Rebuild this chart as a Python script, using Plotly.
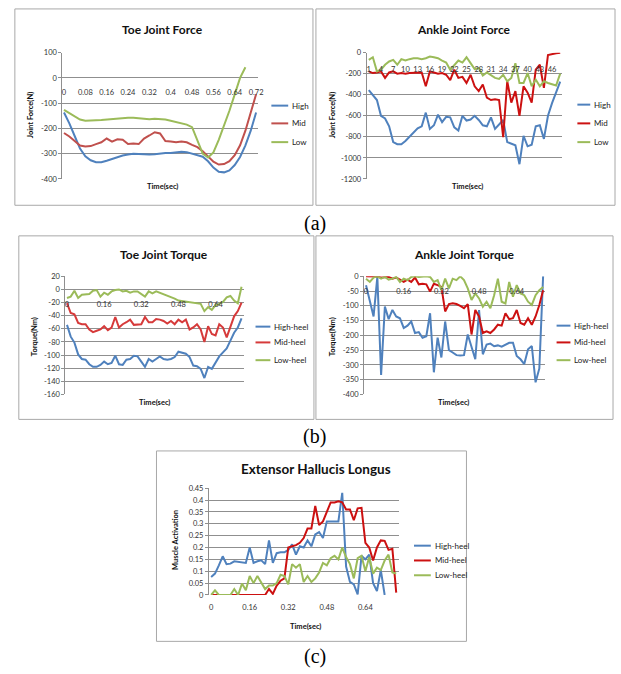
import plotly.graph_objects as go

W, H = 621, 674

# ---------------- data ----------------
# (a) Toe Joint Force, sampled every 0.02 s
TOE_FORCE_T = [round(i * 0.02, 2) for i in range(37)]
TOE_FORCE_HIGH = [-137, -180, -230, -280, -310, -326, -334, -334, -328, -320, -314, -307, -303, -300,
                  -301, -303, -303, -302, -298, -297, -297, -294, -292, -294, -300, -305, -312, -330,
                  -355, -372, -374, -366, -345, -313, -267, -209, -137]
TOE_FORCE_MID = [-218, -232, -250, -268, -272, -270, -262, -255, -240, -252, -243, -245, -262, -260,
                 -262, -240, -228, -215, -220, -250, -252, -255, -252, -255, -265, -274, -290, -309,
                 -332, -343, -341, -330, -306, -267, -209, -137, -65]
TOE_FORCE_LOW = [-127, -140, -155, -165, -170, -170, -168, -167, -165, -162, -161, -160, -158, -158,
                 -160, -163, -164, -162, -162, -165, -170, -175, -183, -185, -195, -250, -300, -315,
                 -295, -245, -190, -130, -65, 0, 42]

# (a) Ankle Joint Force, categories 1..48
ANKLE_FORCE_CAT = list(range(1, 49))
ANKLE_FORCE_HIGH = [-356, -400, -450, -600, -625, -700, -850, -870, -870, -840,
                    -800, -760, -720, -700, -570, -725, -690, -590, -660, -610,
                    -615, -710, -740, -600, -645, -635, -600, -640, -690, -700,
                    -615, -725, -680, -640, -850, -865, -880, -1060, -790, -890,
                    -875, -700, -690, -820, -600, -480, -380, -275]
ANKLE_FORCE_MID = [-178, -194, -188, -178, -240, -188, -178, -200, -194, -200,
                   -194, -194, -188, -188, -320, -178, -188, -200, -194, -210,
                   -262, -162, -240, -230, -288, -210, -320, -365, -303, -428,
                   -450, -443, -450, -803, -272, -475, -365, -600, -320, -380,
                   -475, -162, -115, -335, -22, -12, -6, 0]
ANKLE_FORCE_LOW = [-69, -44, -178, -162, -115, -84, -69, -115, -62, -75,
                   -62, -53, -53, -62, -53, -37, -44, -53, -75, -94,
                   -162, -115, -75, -94, -44, -100, -156, -147, -218, -188,
                   -210, -240, -250, -210, -272, -240, -100, -288, -288, -194,
                   -320, -256, -320, -272, -288, -303, -312, -200]

# (b) torques, sampled every 0.016 s
TORQUE_T = [round(i * 0.016, 3) for i in range(48)]
TOE_TORQUE_HIGH = [-54, -72, -81, -99, -106, -107, -114, -118, -118, -115,
                   -110, -114, -112, -101, -114, -115, -107, -106, -101, -102,
                   -110, -118, -106, -110, -106, -102, -106, -107, -106, -103,
                   -95, -96, -98, -103, -116, -117, -121, -135, -118, -121,
                   -112, -102, -96, -90, -78, -66, -58, -44]
TOE_TORQUE_MID = [-21, -36, -38, -51, -53, -53, -61, -65, -63, -61,
                  -56, -62, -58, -42, -58, -53, -50, -46, -54, -53,
                  -53, -42, -50, -50, -45, -46, -48, -52, -48, -53,
                  -46, -50, -46, -61, -58, -53, -61, -80, -56, -68,
                  -70, -53, -58, -73, -56, -41, -33, -20]
TOE_TORQUE_LOW = [-13, -11, -2, -13, -8, -7, -7, -2, -1, -11,
                  -5, -8, -3, -1, 0, -3, -2, -5, -3, -3,
                  -7, -11, -3, -6, -3, -5, -8, -10, -12, -14,
                  -17, -18, -19, -20, -20, -21, -22, -33, -27, -31,
                  -24, -22, -19, -12, -10, -17, -21, 4]
ANKLE_TORQUE_HIGH = [-30, -86, -136, -2, -334, -102, -145, -114, -136, -142,
                     -175, -167, -153, -192, -189, -208, -203, -125, -325, -208,
                     -275, -153, -250, -258, -267, -268, -267, -197, -242, -281,
                     -114, -264, -231, -228, -237, -234, -238, -231, -225, -225,
                     -270, -281, -297, -247, -236, -359, -312, 0]
ANKLE_TORQUE_MID = [0, 0, -2, -1, -4, -4, -2, -8, -4, -11,
                    -19, -11, -19, -4, -27, -25, -27, -52, -25, -30,
                    -36, -119, -94, -91, -94, -100, -108, -94, -197, -114,
                    -136, -192, -186, -192, -180, -164, -167, -125, -145, -142,
                    -114, -158, -164, -142, -164, -136, -97, -47]
ANKLE_TORQUE_LOW = [-8, -19, -4, 0, -8, -2, -11, -8, -2, -19,
                    -8, -13, -2, 0, -2, 0, 0, -2, -19, -13,
                    -47, -8, -41, -8, -13, 0, -13, -41, -80, -58,
                    -75, -103, -86, -108, -64, -8, -86, -92, -19, -69,
                    -30, -58, -64, -86, -97, -64, -47, -36]

# (c) Extensor Hallucis Longus, sampled every 0.016 s
EHL_T = [round(i * 0.016, 3) for i in range(49)]
EHL_HIGH = [0.076, 0.090, 0.125, 0.163, 0.130, 0.132, 0.142, 0.140, 0.135, 0.135,
            0.200, 0.135, 0.142, 0.146, 0.130, 0.230, 0.135, 0.176, 0.180, 0.180,
            0.190, 0.213, 0.170, 0.205, 0.200, 0.230, 0.205, 0.255, 0.265, 0.240,
            0.310, 0.310, 0.310, 0.310, 0.430, 0.120, 0.055, 0.045, 0.003, 0.165,
            0.150, 0.170, 0.050, 0.017, 0.105, 0.000]
EHL_MID = [0, 0, 0, 0, 0, 0, 0, 0, 0, 0,
           0, 0, 0, 0, 0, 0.025, 0.005, 0.040, 0.060, 0.070,
           0.200, 0.205, 0.210, 0.220, 0.240, 0.280, 0.280, 0.375, 0.295, 0.310,
           0.350, 0.390, 0.390, 0.395, 0.390, 0.360, 0.360, 0.315, 0.365, 0.367,
           0.220, 0.200, 0.145, 0.200, 0.230, 0.228, 0.190, 0.195, 0.010]
EHL_LOW = [0, 0.020, 0, 0, 0, 0, 0.025, 0, 0.048, 0.020,
           0.080, 0.050, 0.080, 0.050, 0.025, 0.040, 0.040, 0.050, 0.085, 0.080,
           0.045, 0.130, 0.115, 0.130, 0.055, 0.080, 0.055, 0.070, 0.095, 0.135,
           0.125, 0.155, 0.165, 0.150, 0.200, 0.160, 0.130, 0.070, 0.155, 0.165,
           0.100, 0.160, 0.090, 0.115, 0.105, 0.145, 0.170, 0.095, 0.090]

NAMES_A = ["High", "Mid", "Low"]
NAMES_B = ["High-heel", "Mid-heel", "Low-heel"]

TITLES = ["Toe Joint Force", "Ankle Joint Force", "Toe Joint Torque", "Ankle Joint Torque",
          "Extensor Hallucis Longus"]
Y_TITLES = ["Joint Force(N)", "Joint Force(N)", "Torque(Nm)", "Torque(Nm)", "Muscle Activation"]
X_TITLE = "Time(sec)"

TOE_FORCE_YTICKS = [100, 0, -100, -200, -300, -400]
ANKLE_FORCE_YTICKS = [0, -200, -400, -600, -800, -1000, -1200]
TOE_TORQUE_YTICKS = [20, 0, -20, -40, -60, -80, -100, -120, -140, -160]
ANKLE_TORQUE_YTICKS = [0, -50, -100, -150, -200, -250, -300, -350, -400]
EHL_YTICKS = [0, 0.05, 0.1, 0.15, 0.2, 0.25, 0.3, 0.35, 0.4, 0.45]
EHL_YTICKTEXT = ["0", "0.05", "0.1", "0.15", "0.2", "0.25", "0.3", "0.35", "0.4", "0.45"]
TOE_FORCE_XTICKS = [0, 0.08, 0.16, 0.24, 0.32, 0.4, 0.48, 0.56, 0.64, 0.72]
ANKLE_FORCE_XTICKS = list(range(1, 48, 3))
TIME_XTICKS = [0, 0.16, 0.32, 0.48, 0.64]

BLUE = "#4F81BD"
RED_SOFT = "#C0504D"
RED = "#CC1111"
GREEN = "#9BBB59"

FONT = "Lato"
GRID = "#8f8f8f"
BOXLINE = "#a8a8a8"


def fx(x):
    return x / W


def fy(y):
    return 1 - y / H


def fmt(v):
    return "%g" % v


panels = [
    dict(box=(14, 5, 315, 204), plot=(62, 49.3, 260, 177.3),
         xr=[-0.006, 0.729], yr=[-400, 100], xt=TOE_FORCE_XTICKS,
         xtt=[fmt(v) for v in TOE_FORCE_XTICKS], yt=TOE_FORCE_YTICKS,
         ytt=[fmt(v) for v in TOE_FORCE_YTICKS], xlab=84,
         title=(163, 26, 12), ytitle=(30, 113), xtitle=(163, 185),
         leg=(273, 290, 292, [103, 121, 140]), names=NAMES_A,
         series=[(TOE_FORCE_T, TOE_FORCE_HIGH, BLUE), (TOE_FORCE_T, TOE_FORCE_MID, RED_SOFT),
                 (TOE_FORCE_T[:len(TOE_FORCE_LOW)], TOE_FORCE_LOW, GREEN)]),
    dict(box=(318, 5, 620, 204), plot=(369.3, 49.3, 566.7, 177.3),
         xr=[0.5, 48.5], yr=[-1200, 0], xt=ANKLE_FORCE_XTICKS,
         xtt=[str(v) for v in ANKLE_FORCE_XTICKS], yt=ANKLE_FORCE_YTICKS,
         ytt=[fmt(v) for v in ANKLE_FORCE_YTICKS], xlab=60,
         title=(468, 26, 12), ytitle=(335, 113), xtitle=(471, 185),
         leg=(582, 595, 597, [102, 121, 140]), names=NAMES_A,
         series=[(ANKLE_FORCE_CAT, ANKLE_FORCE_HIGH, BLUE), (ANKLE_FORCE_CAT, ANKLE_FORCE_MID, RED),
                 (ANKLE_FORCE_CAT, ANKLE_FORCE_LOW, GREEN)]),
    dict(box=(18, 235, 316, 421), plot=(65, 276, 245, 395.7),
         xr=[-0.007, 0.761], yr=[-160, 20], xt=TIME_XTICKS,
         xtt=[fmt(v) for v in TIME_XTICKS], yt=TOE_TORQUE_YTICKS,
         ytt=[fmt(v) for v in TOE_TORQUE_YTICKS], xlab=298,
         title=(165, 254, 12), ytitle=(34, 337), xtitle=(155, 404),
         leg=(257, 272, 274, [327, 343, 361]), names=NAMES_B,
         series=[(TORQUE_T, TOE_TORQUE_HIGH, BLUE), (TORQUE_T, TOE_TORQUE_MID, "#D63A3A"),
                 (TORQUE_T, TOE_TORQUE_LOW, GREEN)]),
    dict(box=(318, 235, 618, 421), plot=(366.7, 276, 549.3, 395.7),
         xr=[-0.008, 0.760], yr=[-400, 0], xt=TIME_XTICKS,
         xtt=[fmt(v) for v in TIME_XTICKS], yt=ANKLE_TORQUE_YTICKS,
         ytt=[fmt(v) for v in ANKLE_TORQUE_YTICKS], xlab=285,
         title=(468, 254, 12), ytitle=(335, 337), xtitle=(457, 404),
         leg=(561, 575, 577, [326, 343, 361]), names=NAMES_B,
         series=[(TORQUE_T, ANKLE_TORQUE_HIGH, BLUE), (TORQUE_T, ANKLE_TORQUE_MID, RED),
                 (TORQUE_T, ANKLE_TORQUE_LOW, GREEN)]),
    dict(box=(157, 453, 470, 646), plot=(210, 490.7, 402, 599),
         xr=[-0.009, 0.78], yr=[0, 0.45], xt=TIME_XTICKS,
         xtt=[fmt(v) for v in TIME_XTICKS], yt=EHL_YTICKS,
         ytt=EHL_YTICKTEXT, xlab=606,
         title=(318, 471, 13.5), ytitle=(176, 543), xtitle=(307, 631),
         leg=(417, 434, 436, [549, 564, 579]), names=NAMES_B,
         series=[(EHL_T[:len(EHL_HIGH)], EHL_HIGH, BLUE), (EHL_T, EHL_MID, RED),
                 (EHL_T, EHL_LOW, GREEN)]),
]

fig = go.Figure()
shapes = []
annotations = []
layout = {}

for k, p in enumerate(panels):
    sfx = "" if k == 0 else str(k + 1)
    xa, ya = "xaxis" + sfx, "yaxis" + sfx
    xref, yref = "x" + sfx, "y" + sfx
    bx0, by0, bx1, by1 = p["box"]
    shapes.append(dict(type="rect", xref="paper", yref="paper", x0=fx(bx0), x1=fx(bx1),
                       y0=fy(by1), y1=fy(by0), line=dict(color=BOXLINE, width=1),
                       fillcolor="white", layer="below"))
    px0, py0, px1, py1 = p["plot"]
    layout[xa] = dict(domain=[fx(px0), fx(px1)], range=p["xr"], anchor="free",
                      position=fy(p["xlab"]), showgrid=False, zeroline=False, showline=False,
                      tickmode="array", tickvals=p["xt"], ticktext=p["xtt"], ticks="",
                      tickfont=dict(family=FONT, size=7.5, color="#333333"), fixedrange=True)
    layout[ya] = dict(domain=[fy(py1), fy(py0)], range=p["yr"], anchor=xref,
                      showgrid=True, gridcolor=GRID, gridwidth=1, zeroline=False,
                      showline=True, linecolor=GRID, linewidth=1, ticks="outside",
                      ticklen=3, tickcolor=GRID, tickmode="array", tickvals=p["yt"],
                      ticktext=p["ytt"], tickfont=dict(family=FONT, size=7.5, color="#333333"),
                      fixedrange=True)
    for (xs, ys, col), nm in zip(p["series"], p["names"]):
        fig.add_trace(go.Scatter(x=xs, y=ys, mode="lines", name=nm, xaxis=xref, yaxis=yref,
                                 line=dict(color=col, width=2), showlegend=False,
                                 hoverinfo="skip"))
    tx, ty, ts = p["title"]
    annotations.append(dict(text="<b>%s</b>" % TITLES[k], x=fx(tx), y=fy(ty), xref="paper",
                            yref="paper", showarrow=False, xanchor="center", yanchor="middle",
                            font=dict(family=FONT, size=ts, color="#111111")))
    yx, yy = p["ytitle"]
    annotations.append(dict(text="<b>%s</b>" % Y_TITLES[k], x=fx(yx), y=fy(yy), xref="paper",
                            yref="paper", showarrow=False, textangle=-90, xanchor="center",
                            yanchor="middle", font=dict(family=FONT, size=7.5, color="#111111")))
    xx, xy = p["xtitle"]
    annotations.append(dict(text="<b>%s</b>" % X_TITLE, x=fx(xx), y=fy(xy), xref="paper",
                            yref="paper", showarrow=False, xanchor="center", yanchor="middle",
                            font=dict(family=FONT, size=7.5, color="#111111")))
    lx0, lx1, ltx, lys = p["leg"]
    for (xs, ys, col), nm, ly in zip(p["series"], p["names"], lys):
        shapes.append(dict(type="line", xref="paper", yref="paper", x0=fx(lx0), x1=fx(lx1),
                           y0=fy(ly), y1=fy(ly), line=dict(color=col, width=2)))
        annotations.append(dict(text=nm, x=fx(ltx), y=fy(ly), xref="paper", yref="paper",
                                showarrow=False, xanchor="left", yanchor="middle",
                                font=dict(family=FONT, size=8, color="#222222")))

for lab, (lx, ly) in zip(["(a)", "(b)", "(c)"], [(317, 222), (317, 438), (317, 661)]):
    annotations.append(dict(text=lab, x=fx(lx), y=fy(ly), xref="paper", yref="paper",
                            showarrow=False, xanchor="center", yanchor="middle",
                            font=dict(family="Liberation Serif", size=20, color="#000000")))

fig.update_layout(width=W, height=H, margin=dict(l=0, r=0, t=0, b=0), autosize=False,
                  paper_bgcolor="white", plot_bgcolor="rgba(0,0,0,0)", showlegend=False,
                  shapes=shapes, annotations=annotations, **layout)

fig.write_html("out.html", config={"displayModeBar": False, "staticPlot": True},
               post_script="document.body.style.margin='0';document.body.style.overflow='hidden';")
